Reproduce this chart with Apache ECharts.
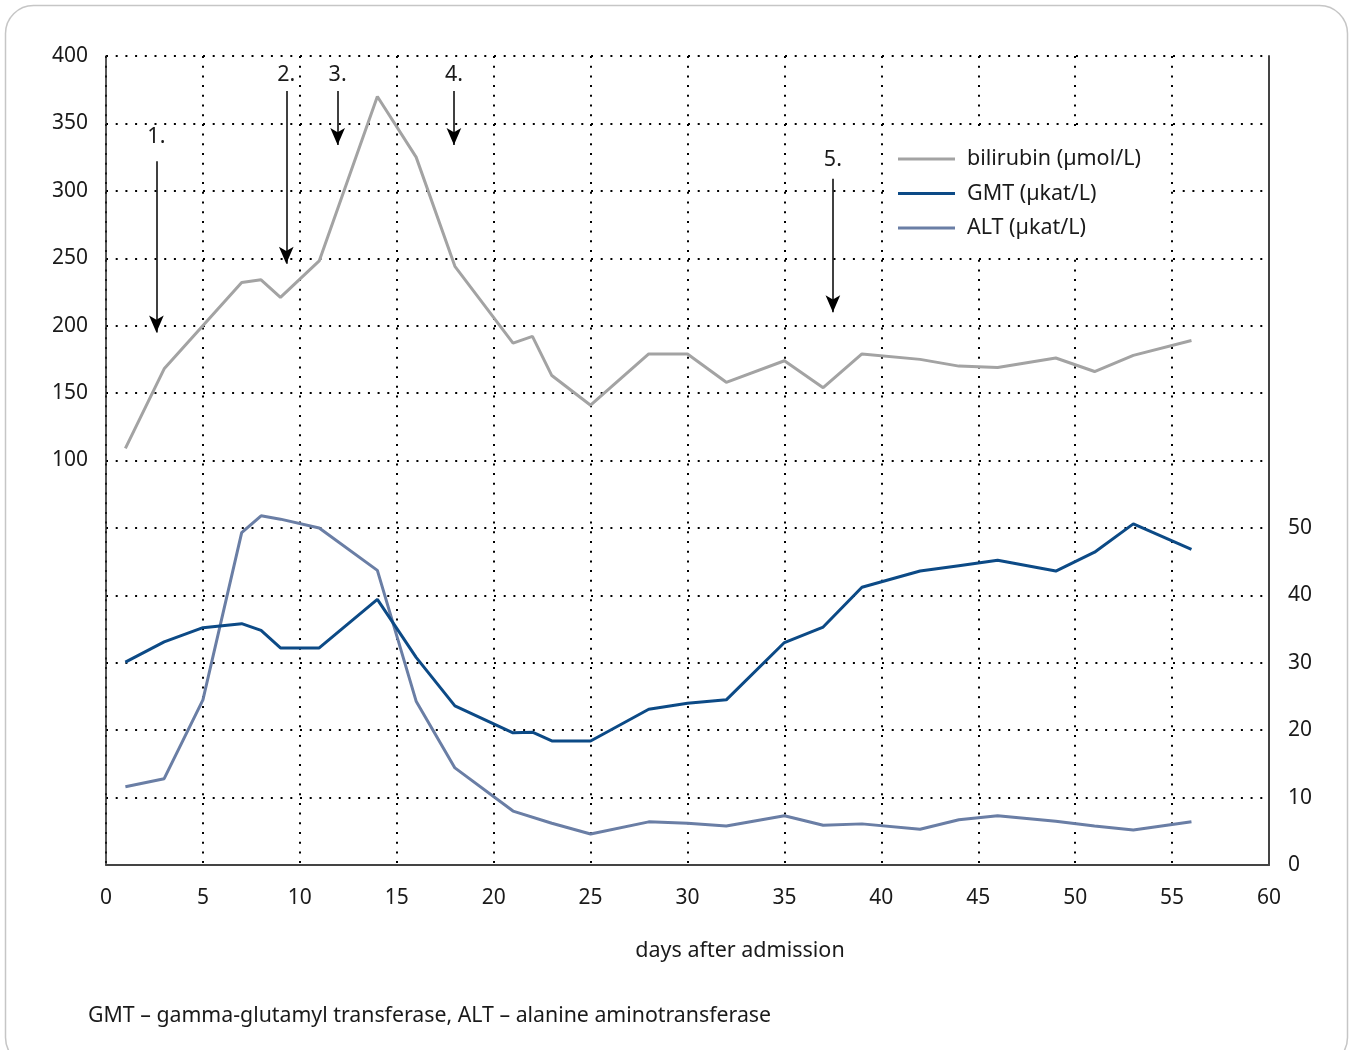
<!DOCTYPE html>
<html>
<head>
<meta charset="utf-8">
<script src="https://cdn.jsdelivr.net/npm/echarts@6/dist/echarts.min.js"></script>
<style>
  html, body { margin: 0; background: #fff; }
  #chart { width: 1350px; height: 1050px; }
</style>
</head>
<body>
<div id="chart"></div>
<script>
// bilirubin (left axis, µmol/L)
const biliDays = [1, 3, 7, 8, 9, 11, 14, 16, 18, 21, 22, 23, 25, 28, 30, 32, 35, 37, 39, 42, 44, 46, 49, 51, 53, 56];
const biliValues = [109, 168, 232, 234, 221, 248, 370, 325, 244, 187, 192, 163, 141, 179, 179, 158, 174, 154, 179, 175, 170, 169, 176, 166, 178, 189];

// GMT (right axis, µkat/L)
const gmtDays = [1, 3, 5, 7, 8, 9, 11, 14, 16, 18, 21, 22, 23, 25, 28, 30, 32, 35, 37, 39, 42, 44, 46, 49, 51, 53, 56];
const gmtValues = [30.1, 33.1, 35.2, 35.8, 34.8, 32.2, 32.2, 39.4, 30.8, 23.6, 19.6, 19.7, 18.4, 18.4, 23.1, 24.0, 24.5, 33.0, 35.3, 41.2, 43.6, 44.4, 45.2, 43.6, 46.4, 50.6, 46.8];

// ALT (right axis, µkat/L)
const altDays = [1, 3, 5, 7, 8, 9, 11, 14, 16, 18, 21, 23, 25, 28, 30, 32, 35, 37, 39, 42, 44, 46, 49, 51, 53, 56];
const altValues = [11.6, 12.8, 24.5, 49.3, 51.8, 51.3, 50.0, 43.7, 24.3, 14.4, 8.0, 6.2, 4.6, 6.4, 6.2, 5.8, 7.3, 5.9, 6.1, 5.3, 6.7, 7.3, 6.5, 5.8, 5.2, 6.4];

// numbered arrows (in left-axis units)
const arrowLabels = ['1.', '2.', '3.', '4.', '5.'];
const arrowDays = [2.6, 9.3, 11.95, 17.95, 37.5];
const arrowTop = [322, 374, 374, 374, 309];
const arrowTip = [195, 246, 334, 334, 210];
const arrowLabelY = [340, 386, 386, 386, 323];

const seriesNames = ['bilirubin (\u00b5mol/L)', 'GMT (\u00b5kat/L)', 'ALT (\u00b5kat/L)'];
const FONT = '"Noto Sans", sans-serif';
const TXT = '#1a1a1a';

const zip = (xs, ys) => xs.map((x, i) => [x, ys[i]]);

const chart = echarts.init(document.getElementById('chart'));

const dotted = { color: '#000', width: 2, type: [2, 7.7] };

const option = {
  animation: false,
  backgroundColor: '#fff',
  textStyle: { fontFamily: FONT },
  grid: { left: 106, right: 81, top: 56, bottom: 185 },
  graphic: [
    {
      type: 'rect',
      shape: { x: 5.5, y: 5.5, width: 1342, height: 1060, r: 28 },
      style: { fill: 'none', stroke: '#c6c6c6', lineWidth: 1.5 },
      z: -10
    },
    {
      type: 'text',
      x: 740, y: 951,
      style: { text: 'days after admission', font: '21.5px ' + FONT, fill: TXT, textAlign: 'center', textVerticalAlign: 'middle' }
    },
    {
      type: 'text',
      x: 88, y: 1016,
      style: { text: 'GMT \u2013 gamma-glutamyl transferase, ALT \u2013 alanine aminotransferase', font: '21.3px ' + FONT, fill: TXT, textVerticalAlign: 'middle' }
    }
  ],
  legend: {
    orient: 'vertical',
    left: 884,
    top: 133,
    padding: [14, 28, 14, 14],
    backgroundColor: '#fff',
    itemWidth: 57,
    itemHeight: 3,
    itemGap: 10.5,
    icon: 'rect',
    textStyle: { fontSize: 21.5, color: TXT, lineHeight: 24, padding: [0, 0, 0, 7] },
    data: seriesNames,
    z: 20
  },
  xAxis: {
    type: 'value',
    min: 0, max: 60, interval: 5,
    axisLine: { show: true, onZero: false, lineStyle: { color: '#444', width: 2 } },
    axisTick: { show: false },
    axisLabel: { fontSize: 21, color: TXT, margin: 23 },
    splitLine: { show: true, lineStyle: dotted }
  },
  yAxis: [
    {
      type: 'value',
      min: -200, max: 400, interval: 50,
      axisLine: { show: true, onZero: false, lineStyle: { color: '#222', width: 1.5 } },
      axisTick: { show: false },
      axisLabel: { fontSize: 21, color: TXT, margin: 18, formatter: v => (v >= 100 ? v : '') },
      splitLine: { show: true, lineStyle: dotted }
    },
    {
      type: 'value',
      position: 'right',
      min: 0, max: 120, interval: 10,
      axisLine: { show: true, onZero: false, lineStyle: { color: '#444', width: 2 } },
      axisTick: { show: false },
      axisLabel: { fontSize: 21, color: TXT, margin: 19, formatter: v => (v <= 50 ? v : '') },
      splitLine: { show: false }
    }
  ],
  series: [
    {
      name: seriesNames[0],
      type: 'line',
      yAxisIndex: 0,
      data: zip(biliDays, biliValues),
      showSymbol: false,
      color: '#a3a3a3',
      lineStyle: { width: 3 },
      z: 5,
      markLine: {
        silent: true,
        symbol: ['none', 'arrow'],
        symbolSize: [11, 17],
        lineStyle: { color: '#000', width: 1.5, type: 'solid' },
        itemStyle: { color: '#000' },
        label: { show: false },
        data: arrowDays.map((d, i) => [{ coord: [d, arrowTop[i]] }, { coord: [d, arrowTip[i]] }])
      },
      markPoint: {
        silent: true,
        symbol: 'circle',
        symbolSize: 1,
        itemStyle: { color: 'rgba(0,0,0,0)' },
        label: { show: true, position: 'inside', fontSize: 21.5, color: TXT, formatter: p => p.value },
        data: arrowDays.map((d, i) => ({ coord: [d, arrowLabelY[i]], value: arrowLabels[i] }))
      }
    },
    {
      name: seriesNames[1],
      type: 'line',
      yAxisIndex: 1,
      data: zip(gmtDays, gmtValues),
      showSymbol: false,
      color: '#0c4a86',
      lineStyle: { width: 3 },
      z: 6
    },
    {
      name: seriesNames[2],
      type: 'line',
      yAxisIndex: 1,
      data: zip(altDays, altValues),
      showSymbol: false,
      color: '#6a7ea5',
      lineStyle: { width: 3 },
      z: 5
    }
  ]
};

chart.setOption(option);
</script>
</body>
</html>
